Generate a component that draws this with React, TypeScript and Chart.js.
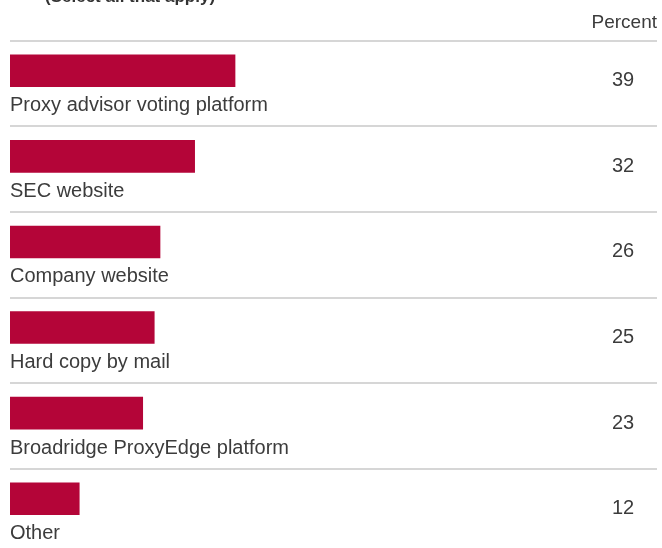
import React, { useEffect, useRef } from "react";
import { Chart, registerables } from "chart.js";

Chart.register(...registerables);

const categories = [
  "Proxy advisor voting platform",
  "SEC website",
  "Company website",
  "Hard copy by mail",
  "Broadridge ProxyEdge platform",
  "Other",
];
const values = [39, 32, 26, 25, 23, 12];
const titleText = "(Select all that apply)";
const unitLabel = "Percent";

const BAR_COLOR = "#B40538";
const TEXT_COLOR = "#3c3c3c";
const RULE_COLOR = "#d6d6d6";
const FONT = "'Liberation Sans', Arial, sans-serif";

const labelPlugin = {
  id: "rowLabels",
  afterDatasetsDraw(chart: any) {
    const { ctx, scales } = chart;
    const y = scales.y;
    const n = categories.length;
    const step = n > 1 ? y.getPixelForValue(1) - y.getPixelForValue(0) : 85;
    const left = 10;
    const right = chart.width - 5;
    ctx.save();
    // title (cropped at top)
    ctx.fillStyle = "#333333";
    ctx.font = `bold 17px ${FONT}`;
    ctx.textAlign = "left";
    ctx.textBaseline = "alphabetic";
    ctx.fillText(titleText, 45, 1.5);
    // unit label
    ctx.font = `19px ${FONT}`;
    ctx.fillStyle = TEXT_COLOR;
    ctx.textAlign = "right";
    ctx.textBaseline = "middle";
    ctx.fillText(unitLabel, right, 23);
    for (let i = 0; i < n; i++) {
      const cy = y.getPixelForValue(i);
      // separator above row
      ctx.strokeStyle = RULE_COLOR;
      ctx.lineWidth = 2;
      const sy = Math.round(cy - step * 0.35);
      ctx.beginPath();
      ctx.moveTo(left, sy);
      ctx.lineTo(right, sy);
      ctx.stroke();
      // category label under the bar
      ctx.fillStyle = TEXT_COLOR;
      ctx.font = `20px ${FONT}`;
      ctx.textAlign = "left";
      ctx.textBaseline = "middle";
      ctx.fillText(categories[i], left, cy + 35);
      // value
      ctx.font = `20px ${FONT}`;
      ctx.textAlign = "center";
      ctx.fillText(String(values[i]), 623, cy + 10);
    }
    ctx.restore();
  },
};

export default function App() {
  const ref = useRef<HTMLCanvasElement | null>(null);
  useEffect(() => {
    if (!ref.current) return;
    const chart = new Chart(ref.current, {
      type: "bar",
      data: {
        labels: categories,
        datasets: [
          {
            data: values,
            backgroundColor: BAR_COLOR,
            borderWidth: 0,
            barThickness: 32,
          },
        ],
      },
      options: {
        indexAxis: "y",
        animation: false,
        responsive: false,
        devicePixelRatio: 1,
        layout: { padding: { top: 28, bottom: 6.5, left: 10, right: 75 } },
        plugins: {
          legend: { display: false },
          tooltip: { enabled: false },
          title: { display: false },
        },
        scales: {
          x: { display: false, min: 0, max: 100 },
          y: { display: false, offset: true },
        },
      },
      plugins: [labelPlugin],
    });
    return () => chart.destroy();
  }, []);
  return (
    <div
      style={{
        position: "fixed",
        left: 0,
        top: 0,
        width: 662,
        height: 548,
        overflow: "hidden",
        background: "#ffffff",
      }}
    >
      <canvas
        ref={ref}
        width={662}
        height={548}
        style={{ width: 662, height: 548, display: "block" }}
      />
    </div>
  );
}
